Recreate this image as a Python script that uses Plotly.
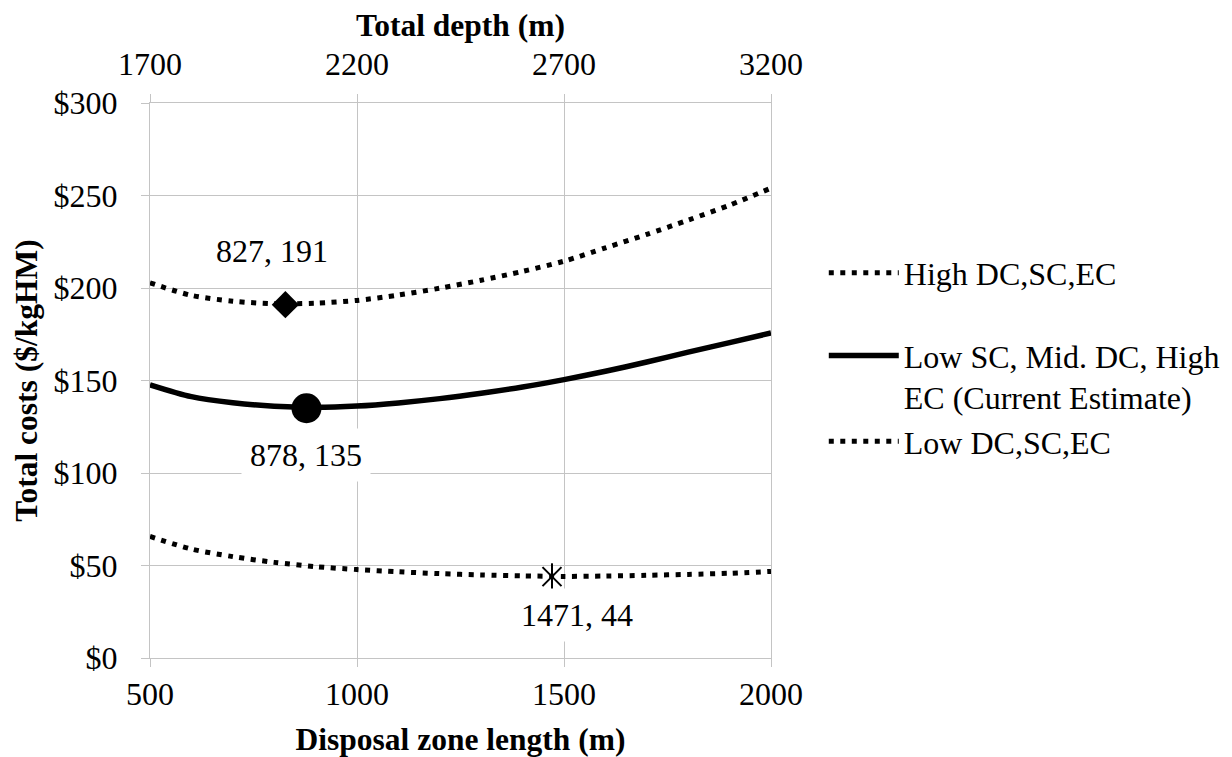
import plotly.graph_objects as go

# Disposal zone length (m) and total costs ($/kgHM) for each scenario
length_m = [500, 600, 700, 800, 900, 1000, 1100, 1200, 1300, 1400,
            1500, 1600, 1700, 1800, 1900, 2000]
cost_high = [202.8, 196.0, 192.9, 191.5, 191.8, 193.3, 196.2, 199.9, 204.2, 209.0,
             214.5, 221.7, 229.0, 236.7, 244.8, 254.0]
cost_current = [147.7, 141.3, 138.0, 136.1, 135.5, 136.2, 137.9, 140.2, 143.1, 146.5,
                150.5, 155.0, 160.0, 165.3, 170.5, 175.7]
cost_low = [65.7, 58.9, 54.8, 51.7, 49.4, 47.8, 46.6, 45.6, 44.9, 44.4,
            44.1, 44.3, 44.7, 45.2, 45.8, 46.8]

# Optimum (minimum-cost) points
opt_high = (827, 191)
opt_current = (878, 135)
opt_low = (1471, 44)

# Tick values and labels
length_ticks = [500, 1000, 1500, 2000]
depth_ticks = [1700, 2200, 2700, 3200]
cost_ticks = [0, 50, 100, 150, 200, 250, 300]
cost_labels = ["$0", "$50", "$100", "$150", "$200", "$250", "$300"]

FONT = "Liberation Serif"
GRID = "#c4c4c4"
dotted = "5px,6.5px"

fig = go.Figure()

fig.add_trace(go.Scatter(
    x=length_m, y=cost_high, name="High DC,SC,EC", mode="lines",
    line=dict(color="black", width=5, dash=dotted, shape="spline",
              smoothing=0.8),
    legend="legend"))
fig.add_trace(go.Scatter(
    x=length_m, y=cost_current,
    name="Low SC, Mid. DC, High<br>EC (Current Estimate)", mode="lines",
    line=dict(color="black", width=5.5, shape="spline", smoothing=0.8),
    legend="legend2"))
fig.add_trace(go.Scatter(
    x=length_m, y=cost_low, name="Low DC,SC,EC", mode="lines",
    line=dict(color="black", width=5, dash=dotted, shape="spline",
              smoothing=0.8),
    legend="legend3"))

# Optimum markers
fig.add_trace(go.Scatter(
    x=[opt_high[0]], y=[opt_high[1]], mode="markers", showlegend=False,
    marker=dict(symbol="diamond", size=21, color="black")))
fig.add_trace(go.Scatter(
    x=[opt_current[0]], y=[opt_current[1]], mode="markers", showlegend=False,
    marker=dict(symbol="circle", size=30, color="black")))
fig.add_trace(go.Scatter(
    x=[opt_low[0]], y=[opt_low[1]], mode="markers", showlegend=False,
    marker=dict(symbol="x-thin-open", size=19, color="black",
                line=dict(width=2, color="black"))))
fig.add_trace(go.Scatter(
    x=[opt_low[0]], y=[opt_low[1]], mode="markers", showlegend=False,
    marker=dict(symbol="line-ns-open", size=19, color="black",
                line=dict(width=2, color="black"))))

# Secondary (top) axis carrying total depth
fig.add_trace(go.Scatter(
    x=depth_ticks, y=[None] * len(depth_ticks), xaxis="x2", mode="markers",
    showlegend=False, hoverinfo="skip", marker=dict(opacity=0)))

# Optimum labels
def label(pt, dx, dy):
    fig.add_annotation(
        x=pt[0] + dx, y=pt[1] + dy, text=f"{pt[0]}, {pt[1]}", showarrow=False,
        font=dict(family=FONT, size=32, color="black"),
        bgcolor="white", borderpad=8)

label(opt_high, -33, 29)
label(opt_current, 0, -25)
label(opt_low, 61, -21)

axis_font = dict(family=FONT, size=32, color="black")
title_font = dict(family=FONT, size=31.5, color="black")
legend_font = dict(family=FONT, size=32, color="black")

def legend_box(ypos):
    return dict(x=1.085, y=ypos, xanchor="left", yanchor="middle",
                font=legend_font, itemwidth=70, valign="top",
                bgcolor="rgba(0,0,0,0)")

fig.update_layout(
    width=1232, height=757,
    margin=dict(l=150, r=461, t=103, b=99, autoexpand=False),
    paper_bgcolor="white", plot_bgcolor="white",
    font=dict(family=FONT, color="black"),
    xaxis=dict(
        range=[500, 2000], tickvals=length_ticks, showgrid=True,
        gridcolor=GRID, gridwidth=1, zeroline=False,
        showline=True, linecolor=GRID, linewidth=1, mirror=True,
        ticks="outside", ticklen=8, tickcolor=GRID, tickwidth=1,
        tickfont=axis_font, ticklabelstandoff=0,
        title=dict(text="<b>Disposal zone length (m)</b>", font=title_font,
                   standoff=23)),
    xaxis2=dict(
        range=[1700, 3200], tickvals=depth_ticks, overlaying="x", side="top",
        showgrid=False, zeroline=False, showline=False,
        ticks="outside", ticklen=8, tickcolor=GRID, tickwidth=1,
        tickfont=axis_font, ticklabelstandoff=6,
        title=dict(text="<b>Total depth (m)</b>", font=title_font, standoff=0)),
    yaxis=dict(
        range=[0, 300], tickvals=cost_ticks, ticktext=cost_labels,
        showgrid=True, gridcolor=GRID, gridwidth=1, zeroline=False,
        showline=True, linecolor=GRID, linewidth=1, mirror=True,
        ticks="outside", ticklen=8, tickcolor=GRID, tickwidth=1,
        tickfont=axis_font, ticklabelstandoff=17,
        title=dict(text="<b>Total costs ($/kgHM)</b>", font=title_font,
                   standoff=6)),
    legend=legend_box(0.694),
    legend2=legend_box(0.507),
    legend3=legend_box(0.390),
)

fig.write_html("out.html")
